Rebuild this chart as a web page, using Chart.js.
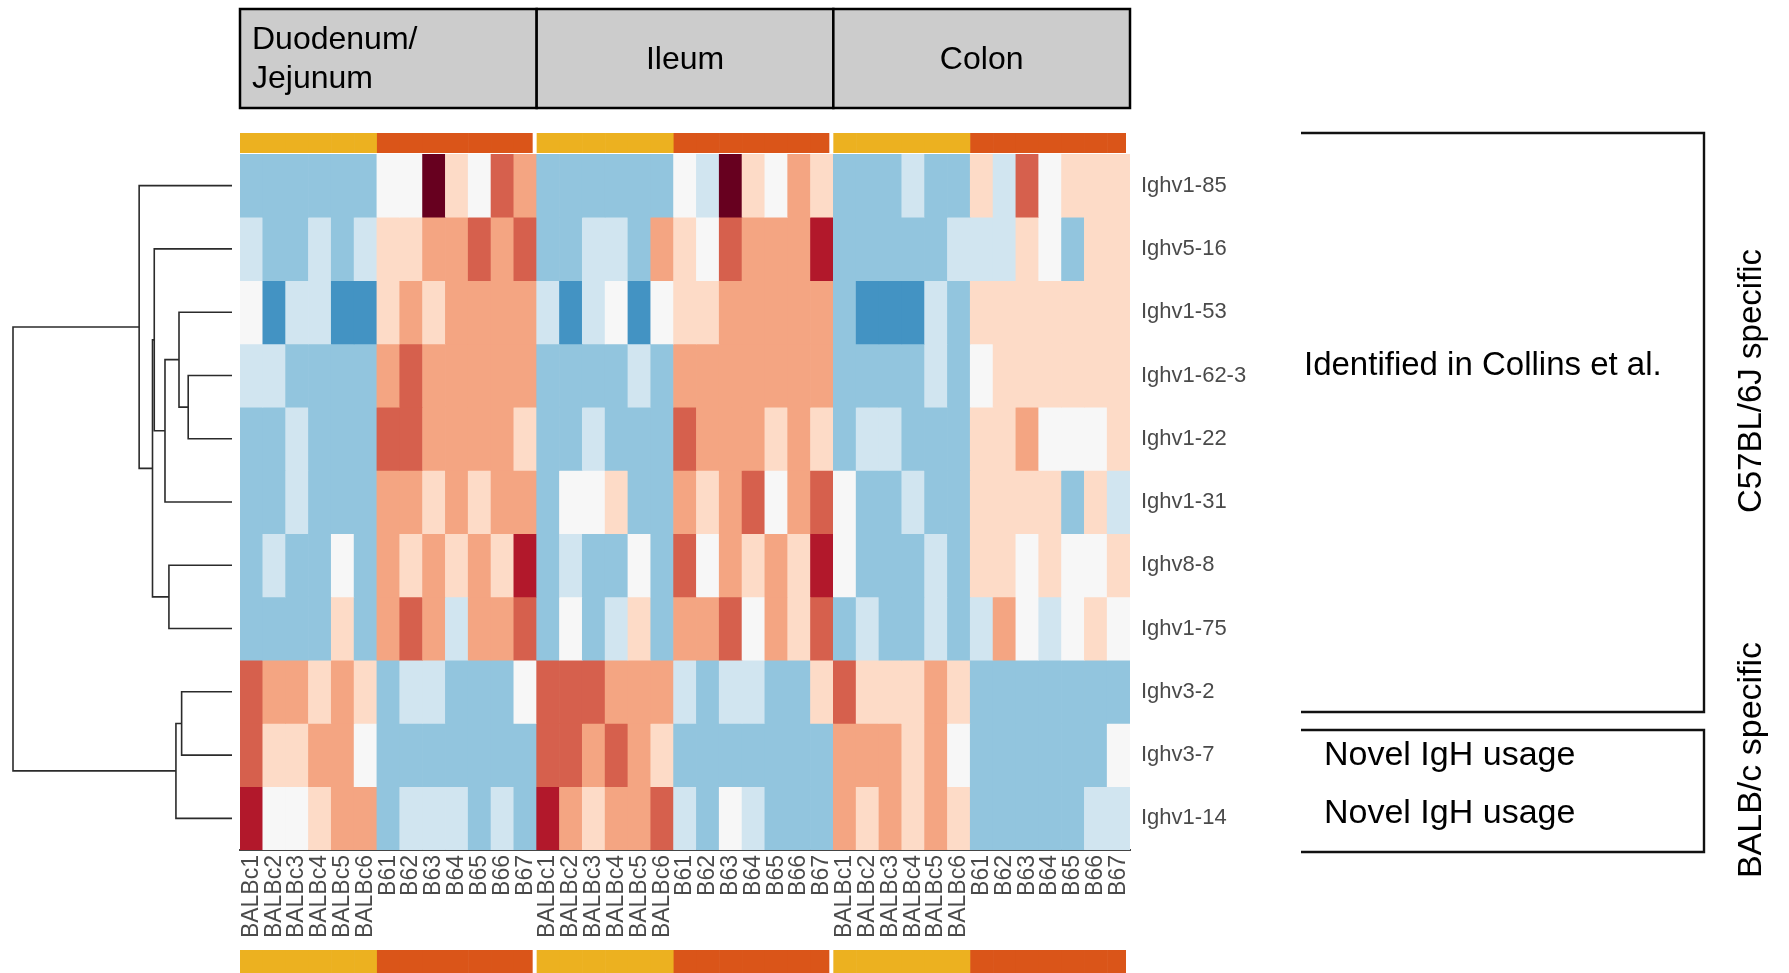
<!DOCTYPE html>
<html><head><meta charset="utf-8">
<script src="https://cdn.jsdelivr.net/npm/chart.js@4.4.1/dist/chart.umd.min.js"></script>
<style>html,body{margin:0;padding:0;background:#fff;overflow:hidden}#wrap{position:absolute;left:0;top:0;width:1789px;height:973px}</style>
</head><body><div id="wrap"><canvas id="c" width="1789" height="973"></canvas></div>
<script>
// ---------------- data ----------------
const tissues = ["Duodenum/\nJejunum", "Ileum", "Colon"];
const samples = ["BALBc1","BALBc2","BALBc3","BALBc4","BALBc5","BALBc6","B61","B62","B63","B64","B65","B66","B67"];
const strains = ["BALBc","BALBc","BALBc","BALBc","BALBc","BALBc","B6","B6","B6","B6","B6","B6","B6"];
const colLabels = [].concat(samples, samples, samples);
const rowLabels = ["Ighv1-85","Ighv5-16","Ighv1-53","Ighv1-62-3","Ighv1-22","Ighv1-31","Ighv8-8","Ighv1-75","Ighv3-2","Ighv3-7","Ighv1-14"];

// scaled usage level per cell (-3 .. 5); 13 Duodenum/Jejunum, 13 Ileum, 13 Colon
const ighv1_85  = [-2,-2,-2,-2,-2,-2, 0,0,5,1,0,3,2,   -2,-2,-2,-2,-2,-2, 0,-1,5,1,0,2,1,   -2,-2,-2,-1,-2,-2, 1,-1,3,0,1,1,1];
const ighv5_16  = [-1,-2,-2,-1,-2,-1, 1,1,2,2,3,2,3,   -2,-2,-1,-1,-2,2, 1,0,3,2,2,2,4,     -2,-2,-2,-2,-2,-1, -1,-1,1,0,-2,1,1];
const ighv1_53  = [0,-3,-1,-1,-3,-3, 1,2,1,2,2,2,2,    -1,-3,-1,0,-3,0, 1,1,2,2,2,2,2,      -2,-3,-3,-3,-1,-2, 1,1,1,1,1,1,1];
const ighv1_62_3= [-1,-1,-2,-2,-2,-2, 2,3,2,2,2,2,2,   -2,-2,-2,-2,-1,-2, 2,2,2,2,2,2,2,    -2,-2,-2,-2,-1,-2, 0,1,1,1,1,1,1];
const ighv1_22  = [-2,-2,-1,-2,-2,-2, 3,3,2,2,2,2,1,   -2,-2,-1,-2,-2,-2, 3,2,2,2,1,2,1,    -2,-1,-1,-2,-2,-2, 1,1,2,0,0,0,1];
const ighv1_31  = [-2,-2,-1,-2,-2,-2, 2,2,1,2,1,2,2,   -2,0,0,1,-2,-2, 2,1,2,3,0,2,3,       0,-2,-2,-1,-2,-2, 1,1,1,1,-2,1,-1];
const ighv8_8   = [-2,-1,-2,-2,0,-2, 2,1,2,1,2,1,4,    -2,-1,-2,-2,0,-2, 3,0,2,1,2,1,4,     0,-2,-2,-2,-1,-2, 1,1,0,1,0,0,1];
const ighv1_75  = [-2,-2,-2,-2,1,-2, 2,3,2,-1,2,2,3,   -2,0,-2,-1,1,-2, 2,2,3,0,2,1,3,      -2,-1,-2,-2,-1,-2, -1,2,0,-1,0,1,0];
const ighv3_2   = [3,2,2,1,2,1, -2,-1,-1,-2,-2,-2,0,   3,3,3,2,2,2, -1,-2,-1,-1,-2,-2,1,    3,1,1,1,2,1, -2,-2,-2,-2,-2,-2,-2];
const ighv3_7   = [3,1,1,2,2,0, -2,-2,-2,-2,-2,-2,-2,  3,3,2,3,2,1, -2,-2,-2,-2,-2,-2,-2,   2,2,2,1,2,0, -2,-2,-2,-2,-2,-2,0];
const ighv1_14  = [4,0,0,1,2,2, -2,-1,-1,-1,-2,-1,-2,  4,2,1,2,2,3, -1,-2,0,-1,-2,-2,-2,   2,1,2,1,2,1, -2,-2,-2,-2,-2,-1,-1];
const rowValues = [ighv1_85, ighv5_16, ighv1_53, ighv1_62_3, ighv1_22, ighv1_31, ighv8_8, ighv1_75, ighv3_2, ighv3_7, ighv1_14];

// row dendrogram (hclust style: negative = leaf row (1-based), positive = earlier merge)
const dendroMerge = [[-4,-5],[-3,1],[2,-6],[-2,3],[-7,-8],[4,5],[-1,6],[-9,-10],[8,-11],[7,9]];
const dendroHeight = [0.200,0.242,0.306,0.355,0.288,0.363,0.424,0.230,0.256,1.000];

// ---------------- styles ----------------
const levelColors = {"-3":"#4393c3","-2":"#92c5de","-1":"#d1e5f0","0":"#f7f7f7","1":"#fddbc7","2":"#f4a582","3":"#d6604d","4":"#b2182b","5":"#67001f"};
const strainColors = {BALBc:"#ecb120", B6:"#da5519"};
const FONT = "'Liberation Sans', Arial, Helvetica, sans-serif";

const datasets = rowLabels.map((name, r) => ({
  label: name,
  data: colLabels.map(() => [r, r + 1]),
  backgroundColor: rowValues[r].map(v => levelColors[String(v)]),
  borderWidth: 0,
  grouped: false,
  barPercentage: 1,
  categoryPercentage: 1
}));

const decor = {
  id: 'decor',
  afterDraw(chart) {
    const ctx = chart.ctx, ca = chart.chartArea, xs = chart.scales.x, ys = chart.scales.y;
    const n = colLabels.length, cw = (ca.right - ca.left) / n;
    const colL = i => xs.getPixelForValue(i) - cw / 2;
    ctx.save();
    // header boxes
    const hTop = 9, hBot = 108;
    ctx.lineWidth = 2.5; ctx.strokeStyle = '#000';
    for (let g = 0; g < tissues.length; g++) {
      const x0 = colL(g * 13), x1 = colL(g * 13 + 12) + cw;
      ctx.fillStyle = '#cccccc';
      ctx.fillRect(x0, hTop, x1 - x0, hBot - hTop);
      ctx.strokeRect(x0, hTop, x1 - x0, hBot - hTop);
      ctx.fillStyle = '#000';
      ctx.font = '32px ' + FONT;
      ctx.textBaseline = 'middle';
      const lines = tissues[g].split('\n');
      if (lines.length > 1) {
        ctx.textAlign = 'left';
        ctx.fillText(lines[0], x0 + 12, 40);
        ctx.fillText(lines[1], x0 + 12, 79);
      } else {
        ctx.textAlign = 'center';
        ctx.fillText(lines[0], (x0 + x1) / 2, 60);
      }
    }
    // annotation bars (top & bottom)
    const bars = [[133, 153], [950, 973]];
    for (const [y0, y1] of bars) {
      for (let g = 0; g < 3; g++) {
        for (let j = 0; j < 13; j++) {
          const i = g * 13 + j;
          let x0 = colL(i), x1 = x0 + cw;
          if (j === 12) x1 -= 4;
          ctx.fillStyle = strainColors[strains[j]];
          ctx.fillRect(x0, y0, x1 - x0 + (j === 12 ? 0 : 0.6), y1 - y0);
        }
      }
    }
    // dendrogram
    const leafX = ca.left - 8, rootX = 13;
    const hx = h => leafX - h * (leafX - rootX);
    const rowY = r => ys.getPixelForValue(r + 0.5);
    const nodeY = [];
    const childPos = c => c < 0 ? { x: leafX, y: rowY(-c - 1) } : { x: hx(dendroHeight[c - 1]), y: nodeY[c - 1] };
    ctx.strokeStyle = '#2b2b2b'; ctx.lineWidth = 1.6; ctx.lineCap = 'butt';
    dendroMerge.forEach((m, k) => {
      const a = childPos(m[0]), b = childPos(m[1]), x = hx(dendroHeight[k]);
      nodeY[k] = (a.y + b.y) / 2;
      ctx.beginPath();
      ctx.moveTo(a.x, a.y); ctx.lineTo(x, a.y); ctx.lineTo(x, b.y); ctx.lineTo(b.x, b.y);
      ctx.stroke();
    });
    // brackets
    ctx.strokeStyle = '#111'; ctx.lineWidth = 2.4;
    ctx.beginPath(); ctx.moveTo(1301, 133); ctx.lineTo(1704, 133); ctx.lineTo(1704, 712); ctx.lineTo(1301, 712); ctx.stroke();
    ctx.beginPath(); ctx.moveTo(1301, 730); ctx.lineTo(1704, 730); ctx.lineTo(1704, 852); ctx.lineTo(1301, 852); ctx.stroke();
    // annotation texts
    ctx.fillStyle = '#000'; ctx.textAlign = 'left'; ctx.textBaseline = 'middle';
    ctx.font = '33px ' + FONT;
    ctx.fillText('Identified in Collins et al.', 1304, 366);
    ctx.font = '34px ' + FONT;
    ctx.fillText('Novel IgH usage', 1324, 756);
    ctx.fillText('Novel IgH usage', 1324, 814);
    ctx.textAlign = 'center';
    ctx.font = '33px ' + FONT;
    ctx.save(); ctx.translate(1752, 381); ctx.rotate(-Math.PI / 2); ctx.fillText('C57BL/6J specific', 0, 0); ctx.restore();
    ctx.font = '34px ' + FONT;
    ctx.save(); ctx.translate(1752, 760); ctx.rotate(-Math.PI / 2); ctx.fillText('BALB/c specific', 0, 0); ctx.restore();
    ctx.restore();
  }
};

new Chart(document.getElementById('c'), {
  type: 'bar',
  data: { labels: colLabels, datasets },
  options: {
    responsive: false, maintainAspectRatio: false, animation: false,
    devicePixelRatio: 1,
    layout: { padding: { left: 240, top: 154, right: 509, bottom: 23 } },
    plugins: { legend: { display: false }, tooltip: { enabled: false } },
    scales: {
      x: {
        type: 'category',
        grid: { display: false, drawTicks: false },
        border: { display: true, color: '#444', width: 2 },
        ticks: { autoSkip: false, maxRotation: 90, minRotation: 90, padding: 5, color: '#4a4a4a', font: { family: FONT, size: 23 } },
        afterFit: s => { s.height = 100; }
      },
      y: {
        type: 'linear', position: 'right', reverse: true, min: 0, max: 11,
        grid: { display: false, drawTicks: false },
        border: { display: false },
        afterBuildTicks: s => { s.ticks = rowLabels.map((_, i) => ({ value: i + 0.5 })); },
        ticks: { autoSkip: false, padding: 11, color: '#4a4a4a', font: { family: FONT, size: 22 }, callback: (v, i) => rowLabels[i] },
        afterFit: s => { s.width = 150; }
      }
    }
  },
  plugins: [decor]
});
</script></body></html>
